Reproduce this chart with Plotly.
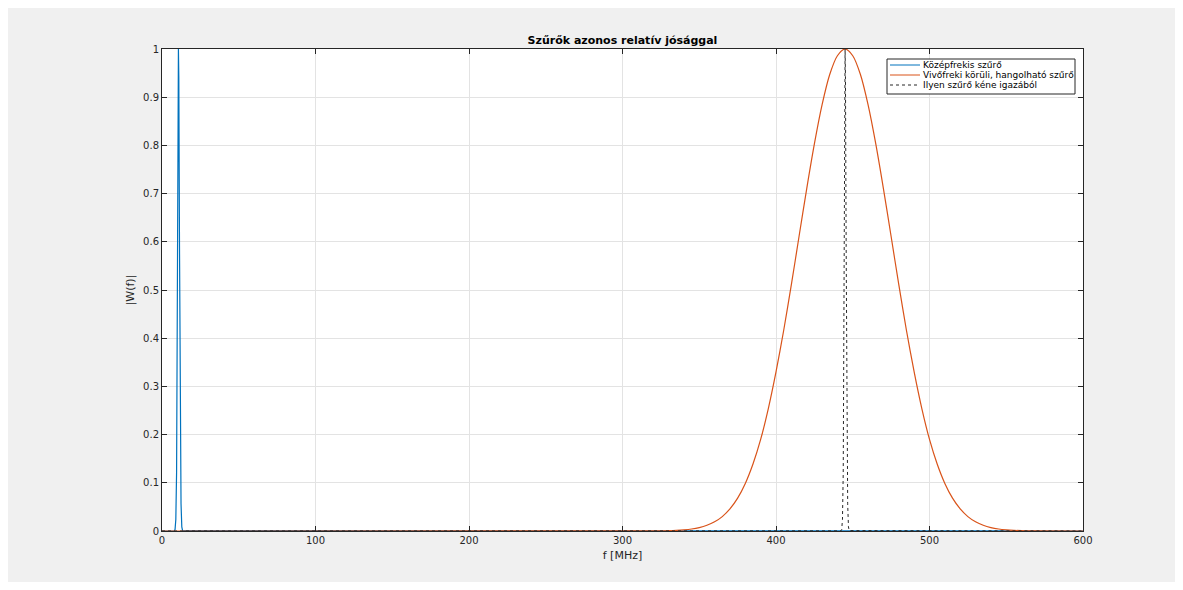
import plotly.graph_objects as go

# --- data ---
# Blue: "Középfrekis szűrő" (narrow peak near 10.7 MHz)
blue_f = [0, 8.0, 8.5, 9.0, 9.5, 10.0, 10.45, 10.7, 10.95, 11.4, 11.9, 12.4, 12.9, 13.4, 600]
blue_w = [0, 0.0003, 0.003, 0.024, 0.121, 0.391, 0.791, 1.0, 0.943, 0.590, 0.231, 0.0565, 0.0087, 0.0008, 0]

# Orange: "Vivőfreki körüli, hangolható szűrő" (wide peak around 445 MHz)
orange_f = [0, 320, 325, 330, 335, 340, 345, 350, 355, 360, 365, 370, 375, 380, 385, 390,
            395, 400, 405, 410, 415, 420, 425, 430, 435, 440, 445, 450, 455, 460, 465,
            470, 475, 480, 485, 490, 495, 500, 505, 510, 515, 520, 525, 530, 535, 540,
            545, 550, 555, 560, 565, 570, 600]
orange_w = [0, 0.0002, 0.0004, 0.0007, 0.0013, 0.0024, 0.0042, 0.0071, 0.0118, 0.0190,
            0.0299, 0.0458, 0.0681, 0.0987, 0.139, 0.190, 0.254, 0.330, 0.416, 0.511,
            0.611, 0.710, 0.803, 0.884, 0.947, 0.986, 1.0, 0.986, 0.947, 0.884, 0.803,
            0.710, 0.611, 0.511, 0.416, 0.330, 0.254, 0.190, 0.139, 0.0987, 0.0681,
            0.0458, 0.0299, 0.0190, 0.0118, 0.0071, 0.0042, 0.0024, 0.0013, 0.0007,
            0.0004, 0.0002, 0]

# Dotted: "Ilyen szűrő kéne igazából" (narrow peak at 445 MHz)
dot_f = [0, 442.3, 442.8, 443.3, 443.8, 444.3, 444.75, 445.0, 445.25, 445.7, 446.2, 446.7, 447.2, 447.7, 600]
dot_w = [0, 0.0003, 0.003, 0.024, 0.121, 0.391, 0.791, 1.0, 0.943, 0.590, 0.231, 0.0565, 0.0087, 0.0008, 0]

x_ticks = [0, 100, 200, 300, 400, 500, 600]
y_ticks = [0, 0.1, 0.2, 0.3, 0.4, 0.5, 0.6, 0.7, 0.8, 0.9, 1]
y_tick_text = ["0", "0.1", "0.2", "0.3", "0.4", "0.5", "0.6", "0.7", "0.8", "0.9", "1"]

title = "Szűrők azonos relatív jósággal"
names = ["Középfrekis szűrő", "Vivőfreki körüli, hangolható szűrő", "Ilyen szűrő kéne igazából"]

FONT = "DejaVu Sans"
AX = "#262626"
COLORS = ["#0072BD", "#D95319", "#262626"]
DASHES = ["solid", "solid", "dot"]

fig = go.Figure()
fig.add_trace(go.Scatter(x=blue_f, y=blue_w, mode="lines", name=names[0],
                         line=dict(color=COLORS[0], width=1.2)))
fig.add_trace(go.Scatter(x=orange_f, y=orange_w, mode="lines", name=names[1],
                         line=dict(color=COLORS[1], width=1.2, shape="spline", smoothing=0.8)))
fig.add_trace(go.Scatter(x=dot_f, y=dot_w, mode="lines", name=names[2],
                         line=dict(color=COLORS[2], width=1, dash="dot")))

# page offset caused by the 8px body margin
OFF = 8
W, H = 1183 - 2 * OFF, 590 - 2 * OFF
# plot area in page pixels
L, R, T, B = 162, 1083, 49, 531
pw, ph = R - L, B - T

def px2x(p):
    return (p - L) / pw

def px2y(p):
    return (B - p) / ph

# manual MATLAB-style legend
lg_l, lg_r, lg_t, lg_b = 887, 1075, 59, 94
rows = [65, 75, 85]
fig.add_shape(type="rect", xref="paper", yref="paper",
              x0=px2x(lg_l), x1=px2x(lg_r), y0=px2y(lg_b), y1=px2y(lg_t),
              fillcolor="white", line=dict(color=AX, width=1), layer="above")
for i, nm in enumerate(names):
    fig.add_shape(type="line", xref="paper", yref="paper",
                  x0=px2x(890), x1=px2x(920), y0=px2y(rows[i]), y1=px2y(rows[i]),
                  line=dict(color=COLORS[i], width=1, dash=DASHES[i]), layer="above")
    fig.add_annotation(xref="paper", yref="paper", x=px2x(921), y=px2y(rows[i]),
                       text=nm, showarrow=False, xanchor="left", yanchor="middle",
                       font=dict(family=FONT, size=9, color="#000000"))

fig.update_layout(
    width=W, height=H,
    margin=dict(l=L - OFF, r=W - (R - OFF), t=T - OFF, b=H - (B - OFF), pad=0),
    paper_bgcolor="#f0f0f0",
    plot_bgcolor="white",
    font=dict(family=FONT, size=10, color=AX),
    title=dict(text="<b>" + title + "</b>", x=((L + R) / 2 - OFF) / W, xanchor="center",
               y=1 - (40 - OFF) / H, yanchor="middle", font=dict(size=11, color="#000000")),
    showlegend=False,
)

fig.update_xaxes(range=[0, 600], tickvals=x_ticks, ticks="inside", ticklen=5,
                 tickcolor=AX, showline=True, linecolor=AX, linewidth=1, mirror="ticks",
                 showgrid=True, gridcolor="#e3e3e3", gridwidth=1, zeroline=False,
                 tickfont=dict(size=10, color=AX),
                 title=dict(text="f [MHz]", font=dict(size=11, color=AX), standoff=6))
fig.update_yaxes(range=[0, 1], tickvals=y_ticks, ticktext=y_tick_text, ticks="inside",
                 ticklen=5, tickcolor=AX, showline=True, linecolor=AX, linewidth=1,
                 mirror="ticks", showgrid=True, gridcolor="#e3e3e3", gridwidth=1,
                 zeroline=False, tickfont=dict(size=10, color=AX),
                 title=dict(text="|W(f)|", font=dict(size=11, color=AX), standoff=6))

fig.write_html("out.html")
